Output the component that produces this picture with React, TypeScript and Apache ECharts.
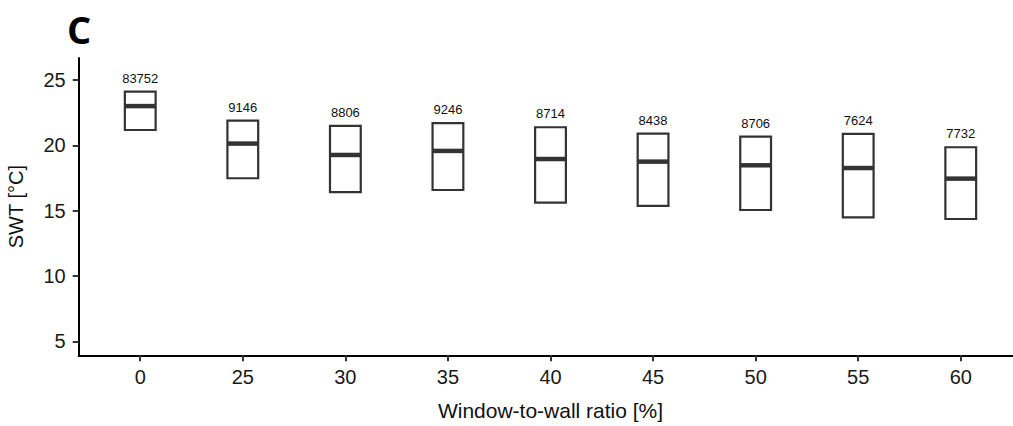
import React, { useEffect, useRef } from "react";
import * as echarts from "echarts";

const categories = ["0", "25", "30", "35", "40", "45", "50", "55", "60"];
const q1Values = [21.17, 17.48, 16.41, 16.58, 15.61, 15.36, 15.05, 14.49, 14.36];
const medianValues = [23.0, 20.13, 19.26, 19.57, 18.95, 18.75, 18.47, 18.26, 17.45];
const q3Values = [24.1, 21.89, 21.48, 21.69, 21.38, 20.89, 20.66, 20.87, 19.85];
const counts = [83752, 9146, 8806, 9246, 8714, 8438, 8706, 7624, 7732];
const yTicks = [5, 10, 15, 20, 25];

const FONT = '"Liberation Sans", Arial, sans-serif';

export default function App() {
  const ref = useRef<HTMLDivElement>(null);
  useEffect(() => {
    document.body.style.margin = "0";
    if (!ref.current) return;
    const chart = echarts.init(ref.current, null, { renderer: "svg" });
    const data = categories.map((_, i) => [i, q1Values[i], medianValues[i], q3Values[i], counts[i]]);
    const xIdx = categories.map((_, i) => i);
    chart.setOption({
      animation: false,
      backgroundColor: "#fff",
      graphic: [
        {
          type: "text",
          x: 67,
          y: 29,
          style: {
            text: "C",
            fontFamily: '"Open Sans", sans-serif',
            fontWeight: "bold",
            fontSize: 38,
            fill: "#000",
            align: "left",
            verticalAlign: "middle",
          },
        },
      ],
      grid: {
        left: 78.7,
        width: 943.6,
        top: 58,
        height: 297.3,
        containLabel: false,
        outerBoundsMode: "none",
      },
      xAxis: {
        type: "value",
        min: -0.6,
        max: 8.6,
        name: "Window-to-wall ratio [%]",
        nameLocation: "middle",
        nameGap: 45,
        nameTextStyle: { fontFamily: FONT, fontSize: 21, color: "#111" },
        splitLine: { show: false },
        axisLine: { show: true, onZero: false, lineStyle: { color: "#000", width: 2 } },
        axisTick: { show: true, customValues: xIdx, length: 6, lineStyle: { color: "#333", width: 2 } },
        axisLabel: {
          customValues: xIdx,
          formatter: (v: number) => categories[Math.round(v)] ?? "",
          fontFamily: FONT,
          fontSize: 20,
          color: "#1a1a1a",
          margin: 12,
        },
      },
      yAxis: {
        type: "value",
        min: 3.93,
        max: 26.68,
        name: "SWT [°C]",
        nameLocation: "middle",
        nameGap: 53,
        nameTextStyle: { fontFamily: FONT, fontSize: 20, color: "#111" },
        splitLine: { show: false },
        axisLine: { show: true, onZero: false, lineStyle: { color: "#000", width: 2 } },
        axisTick: { show: true, customValues: yTicks, length: 6, lineStyle: { color: "#333", width: 2 } },
        axisLabel: {
          customValues: yTicks,
          fontFamily: FONT,
          fontSize: 20,
          color: "#1a1a1a",
          margin: 13,
        },
      },
      series: [
        {
          type: "custom",
          data,
          clip: false,
          renderItem: (params: any, api: any) => {
            const x = api.value(0);
            const q1 = api.value(1);
            const med = api.value(2);
            const q3 = api.value(3);
            const n = api.value(4);
            const pTop = api.coord([x, q3]);
            const pBot = api.coord([x, q1]);
            const pMed = api.coord([x, med]);
            const w = api.size([0.3, 0])[0];
            return {
              type: "group",
              children: [
                {
                  type: "rect",
                  shape: { x: pTop[0] - w / 2, y: pTop[1], width: w, height: pBot[1] - pTop[1] },
                  style: { fill: "#fff", stroke: "#333", lineWidth: 2.2 },
                },
                {
                  type: "line",
                  shape: { x1: pMed[0] - w / 2, y1: pMed[1], x2: pMed[0] + w / 2, y2: pMed[1] },
                  style: { stroke: "#333", lineWidth: 4.5 },
                },
                {
                  type: "text",
                  x: pTop[0],
                  y: pTop[1] - 7,
                  style: {
                    text: String(n),
                    fontFamily: FONT,
                    fontSize: 13,
                    fill: "#111",
                    align: "center",
                    verticalAlign: "bottom",
                  },
                },
              ],
            };
          },
        },
      ],
    });
    return () => chart.dispose();
  }, []);
  return <div ref={ref} style={{ width: 1013, height: 426 }} />;
}
